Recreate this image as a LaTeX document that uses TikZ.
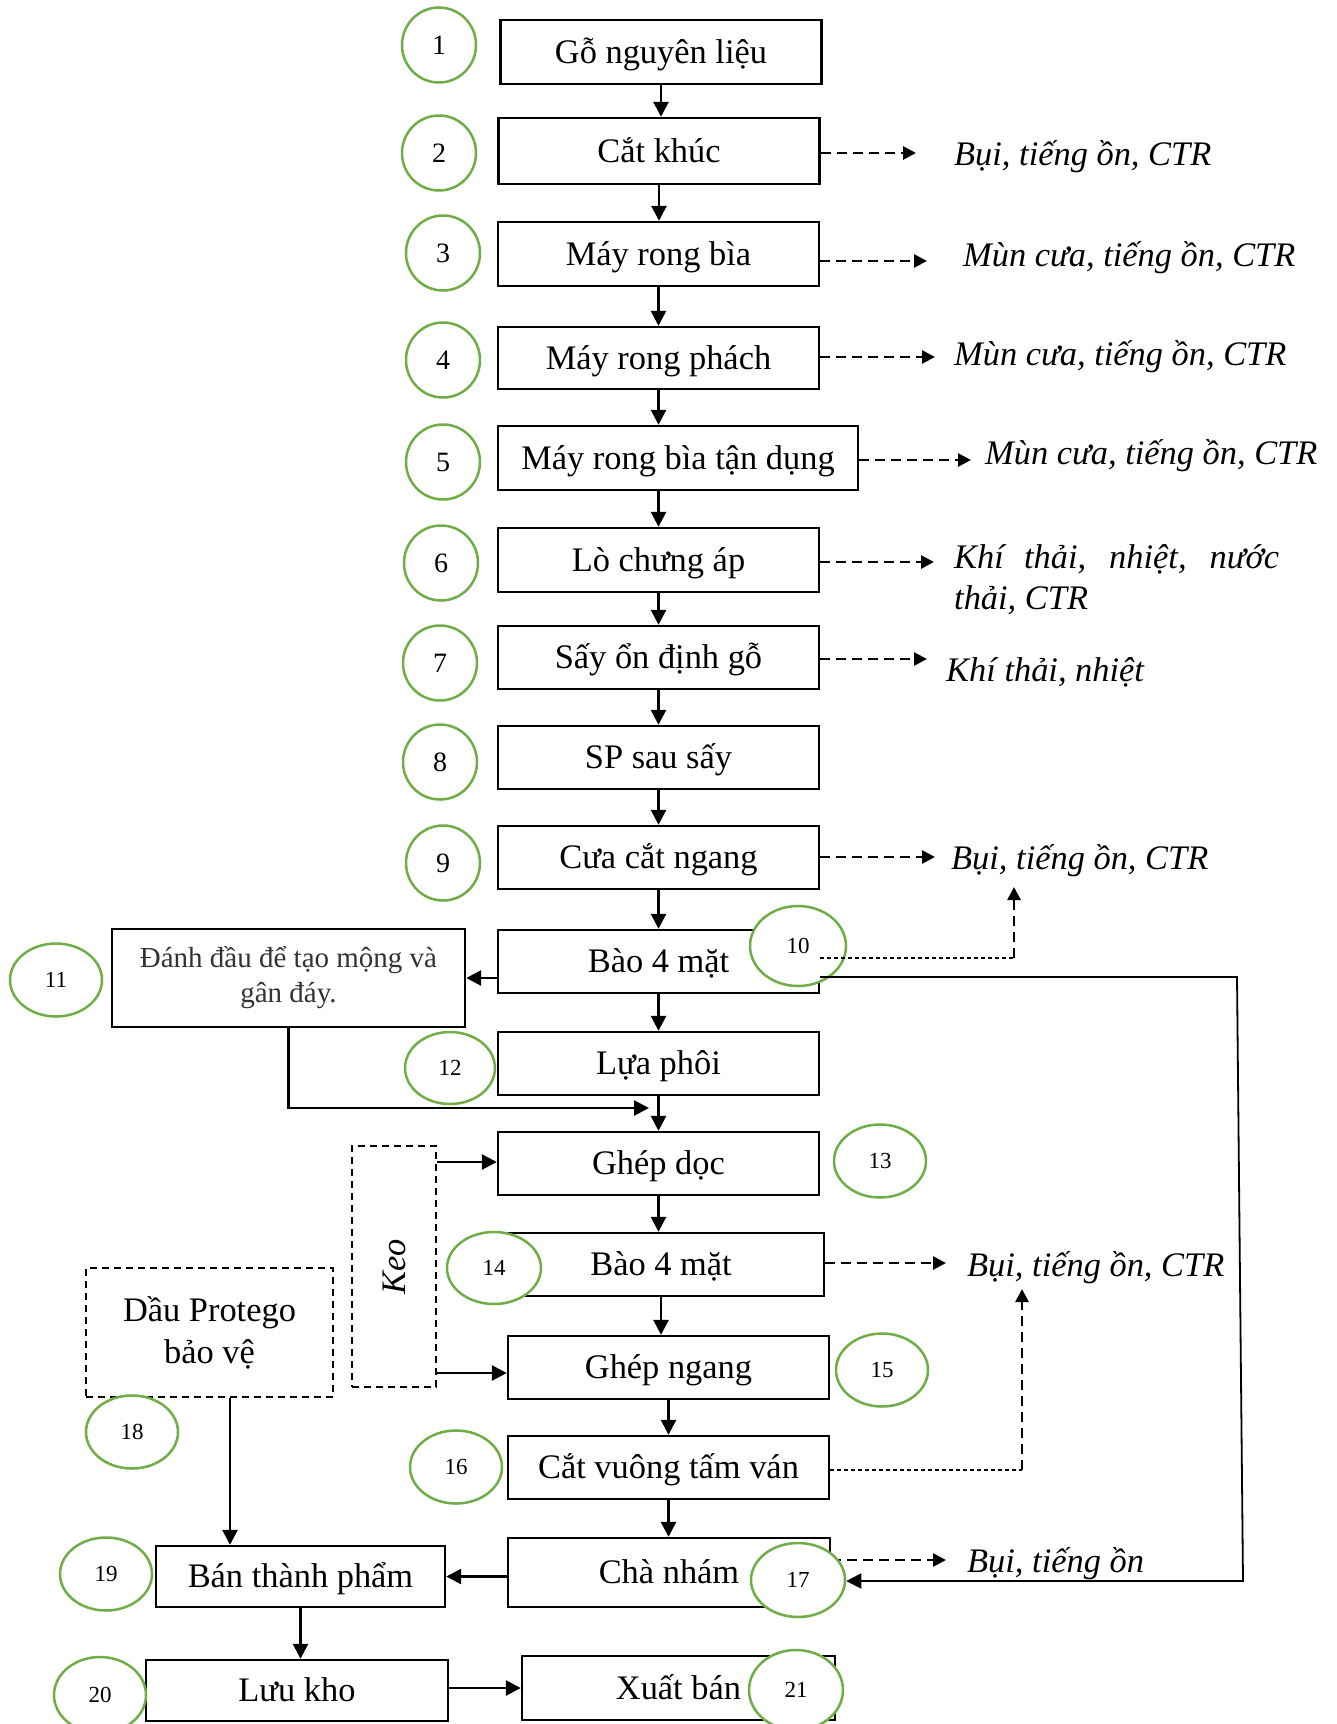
\documentclass[tikz,border=0pt]{standalone}
\usepackage{fontspec}
\setmainfont{Liberation Serif}
\usetikzlibrary{arrows.meta,shapes.geometric}
\definecolor{ringgreen}{RGB}{112,173,71}
\begin{document}
\begin{tikzpicture}[x=1pt,y=-1pt,
  frame/.style={draw, line width=2.4pt, inner sep=0pt},
  stepbox/.style={frame, minimum height=64pt, minimum width=321pt,
    text height=30pt, text depth=7.2pt, font=\fontsize{34.4}{41}\selectfont},
  ring/.style={draw=ringgreen, fill=white, line width=2.5pt, ellipse, inner sep=0pt,
    minimum width=74pt, minimum height=75pt, font=\fontsize{28}{30}\selectfont},
  smallring/.style={ring, minimum width=92pt, minimum height=73pt,
    font=\fontsize{23}{25}\selectfont},
  waste/.style={anchor=west, inner sep=0pt, font=\fontsize{34.4}{41}\selectfont\itshape},
  flow/.style={line width=2.7pt, -{Triangle[length=15pt,width=15pt]}},
  emit/.style={line width=2.7pt, dash pattern=on 10pt off 6pt,
    -{Triangle[length=13pt,width=13pt]}},
  faint/.style={line width=1.3pt, dash pattern=on 4pt off 3pt},
  supply/.style={draw, line width=1.8pt, dash pattern=on 7pt off 5pt, inner sep=0pt}
]
\useasboundingbox (0,0) rectangle (1336,1724);

% main process steps
\node[stepbox] (b1) at (661,52) {Gỗ nguyên liệu};
\node[stepbox, minimum height=66pt] (b2) at (659,151) {Cắt khúc};
\node[stepbox] (b3) at (658.5,254) {Máy rong bìa};
\node[stepbox, minimum height=62pt] (b4) at (658.5,358) {Máy rong phách};
\node[stepbox, minimum width=360pt] (b5) at (678,458) {Máy rong bìa tận dụng};
\node[stepbox] (b6) at (658.5,560) {Lò chưng áp};
\node[stepbox, minimum height=63pt] (b7) at (658.5,657.5) {Sấy ổn định gỗ};
\node[stepbox, minimum height=63pt] (b8) at (658.5,757.5) {SP sau sấy};
\node[stepbox, minimum height=63pt] (b9) at (658.5,857.5) {Cưa cắt ngang};
\node[stepbox, minimum height=63pt] (b10) at (658.5,961.5) {Bào 4 mặt};
\node[frame, minimum width=353pt, minimum height=98pt, align=center,
  font=\fontsize{29}{35}\selectfont, text=black!80] (b11) at (288.5,978)
  {Đánh đầu để tạo mộng và\\gân đáy.};
\node[stepbox, minimum height=63pt] (b12) at (658.5,1063.5) {Lựa phôi};
\node[stepbox, minimum height=63pt] (b13) at (658.5,1163.5) {Ghép dọc};
\node[stepbox, minimum width=326pt, minimum height=63pt] (b14) at (661,1264.5) {Bào 4 mặt};
\node[stepbox, minimum height=63pt] (b15) at (668.5,1367.5) {Ghép ngang};
\node[stepbox, minimum height=63pt] (b16) at (668.5,1467.5) {Cắt vuông tấm ván};
\node[stepbox, minimum width=322pt, minimum height=69pt] (b17) at (669,1572.5) {Chà nhám};
\node[stepbox, minimum width=289pt, minimum height=61pt] (b19) at (300.5,1576.5) {Bán thành phẩm};
\node[stepbox, minimum width=302pt, minimum height=61pt] (b20) at (297,1690.5) {Lưu kho};
\node[stepbox, minimum width=313pt, minimum height=64pt] (b21) at (678.5,1688) {Xuất bán};

% supplied materials
\node[supply, minimum width=84pt, minimum height=241pt] (keo) at (394,1266.5) {};
\node[rotate=90, font=\fontsize{34.4}{41}\selectfont\itshape] (keotext) at (keo.center) {Keo};
\node[supply, minimum width=247pt, minimum height=129pt, align=center,
  font=\fontsize{34.4}{42}\selectfont] (dau) at (209.5,1332.5) {Dầu Protego\\bảo vệ};

% emissions
\node[waste] (L2) at (954,157) {Bụi, tiếng ồn, CTR};
\node[waste] (L3) at (963,258) {Mùn cưa, tiếng ồn, CTR};
\node[waste] (L4) at (954,357) {Mùn cưa, tiếng ồn, CTR};
\node[waste] (L5) at (985,456) {Mùn cưa, tiếng ồn, CTR};
\node[waste, text width=325pt, align=justify] (L6) at (954,580) {Khí thải, nhiệt, nước thải, CTR};
\node[waste] (L7) at (946,672) {Khí thải, nhiệt};
\node[waste] (L9) at (951,861) {Bụi, tiếng ồn, CTR};
\node[waste] (L14) at (967,1268) {Bụi, tiếng ồn, CTR};
\node[waste] (L17) at (967,1564) {Bụi, tiếng ồn};

% main flow
\draw[flow] (b1.south) -- (b1.south |- b2.north);
\draw[flow] (b2.south) -- (b2.south |- b3.north);
\draw[flow] (b3.south) -- (b3.south |- b4.north);
\draw[flow] (b4.south) -- (b4.south |- b5.north);
\draw[flow] (b6.north |- b5.south) -- (b6.north);
\draw[flow] (b6.south) -- (b6.south |- b7.north);
\draw[flow] (b7.south) -- (b7.south |- b8.north);
\draw[flow] (b8.south) -- (b8.south |- b9.north);
\draw[flow] (b9.south) -- (b9.south |- b10.north);
\draw[flow] (b10.south) -- (b10.south |- b12.north);
\draw[flow] (b12.south) -- (b12.south |- b13.north);
\draw[flow] (b13.south) -- (b13.south |- b14.north);
\draw[flow] (b14.south) -- (b14.south |- b15.north);
\draw[flow] (b15.south) -- (b15.south |- b16.north);
\draw[flow] (b16.south) -- (b16.south |- b17.north);
\draw[flow] (b10.west |- b11.east) -- (b11.east);
\coordinate (m12) at (649,1108);
\draw[flow] (b11.south) |- (m12);
\coordinate (ka) at (0,1162);
\coordinate (kb) at (0,1373);
\draw[flow] (keo.east |- ka) -- (b13.west |- ka);
\draw[flow] (keo.east |- kb) -- (b15.west |- kb);
\coordinate (d18) at (230,0);
\draw[flow] (dau.south -| d18) -- (b19.north -| d18);
\draw[flow] (b17.west |- b19.east) -- (b19.east);
\draw[flow] (b19.south) -- (b19.south |- b20.north);
\draw[flow] (b20.east |- b21.west) -- (b21.west);

% emission arrows
\coordinate (e2) at (916,153);
\coordinate (e3) at (927,261);
\coordinate (e4) at (935,357);
\coordinate (e5) at (971,460);
\coordinate (e6) at (934,562);
\coordinate (e7) at (927,659);
\coordinate (e9) at (935,857);
\coordinate (e14) at (946,1263);
\coordinate (e17) at (946,1560);
\draw[emit] (b2.east |- e2) -- (e2);
\draw[emit] (b3.east |- e3) -- (e3);
\draw[emit] (b4.east |- e4) -- (e4);
\draw[emit] (b5.east |- e5) -- (e5);
\draw[emit] (b6.east |- e6) -- (e6);
\draw[emit] (b7.east |- e7) -- (e7);
\draw[emit] (b9.east |- e9) -- (e9);
\draw[emit] (b14.east |- e14) -- (e14);
\draw[emit] (b17.east |- e17) -- (e17);

% step numbers
\node[ring] (c1) at (439,45) {1};
\node[ring] (c2) at (439,153) {2};
\node[ring] (c3) at (443,253) {3};
\node[ring] (c4) at (443,360) {4};
\node[ring] (c5) at (443,462) {5};
\node[ring] (c6) at (441,563) {6};
\node[ring] (c7) at (440,663) {7};
\node[ring] (c8) at (440,762) {8};
\node[ring] (c9) at (443,863) {9};
\node[smallring, minimum width=96pt, minimum height=80pt] (c10) at (798,946) {10};
\node[smallring] (c11) at (56,980) {11};
\node[smallring, minimum width=90pt, minimum height=72pt] (c12) at (450,1068) {12};
\node[smallring] (c13) at (880,1161) {13};
\node[smallring, minimum width=94pt, minimum height=72pt] (c14) at (494,1268) {14};
\node[smallring] (c15) at (882,1370) {15};
\node[smallring] (c16) at (456,1467) {16};
\node[smallring, minimum width=94pt, minimum height=74pt] (c17) at (798,1580) {17};
\node[smallring] (c18) at (132,1432) {18};
\node[smallring] (c19) at (106,1574) {19};
\node[smallring, minimum height=76pt] (c20) at (100,1695) {20};
\node[smallring, minimum width=94pt, minimum height=80pt] (c21) at (796,1690) {21};

% dust from planing and squaring, and the planed stock sent on to sanding
\coordinate (k10) at (1014,958);
\coordinate (t10) at (1014,887);
\draw[faint] (b10.east |- k10) -- (k10);
\draw[emit] (k10) -- (t10);
\coordinate (k16) at (1022,1470);
\coordinate (t16) at (1022,1289);
\draw[faint] (b16.east |- k16) -- (k16);
\draw[emit] (k16) -- (t16);
\coordinate (fb1) at (1237,977);
\coordinate (fb2) at (1243,1581);
\draw[line width=1.8pt, -{Triangle[length=15pt,width=15pt]}]
  (b10.east |- fb1) -- (fb1) -- (fb2) -- (c17.east |- fb2);
\end{tikzpicture}
\end{document}
